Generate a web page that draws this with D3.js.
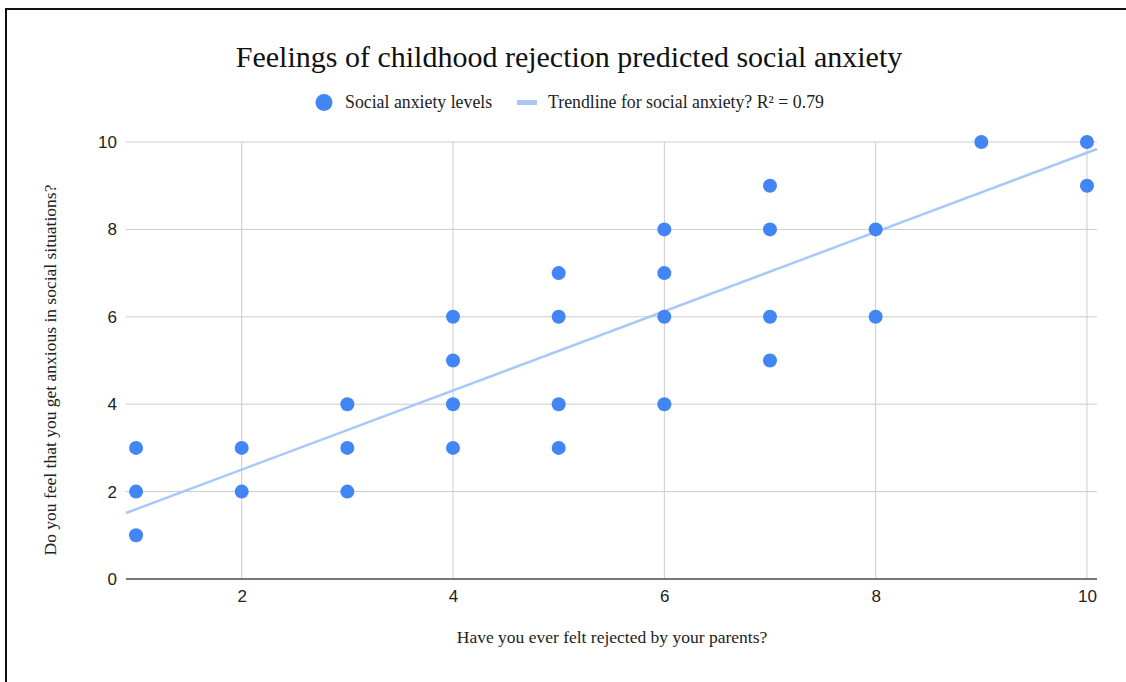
<!DOCTYPE html>
<html>
<head>
<meta charset="utf-8">
<script src="https://cdn.jsdelivr.net/npm/d3@7/dist/d3.min.js"></script>
<style>
html,body{margin:0;padding:0;background:#fff;}
svg{display:block;}
</style>
</head>
<body>
<svg id="chart" width="1126" height="682"></svg>
<script>
// ---- data ----
const rejectedX = [1,1,1,2,2,3,3,3,4,4,4,4,5,5,5,5,6,6,6,6,7,7,7,7,8,8,9,10,10];
const anxietyY  = [3,2,1,3,2,4,3,2,6,5,4,3,7,6,4,3,8,7,6,4,9,8,6,5,8,6,10,10,9];
const trendX = [0.905, 10.095];
const trendY = [1.51, 9.84];
const xTicks = [2,4,6,8,10];
const yTicks = [0,2,4,6,8,10];
const titleText = "Feelings of childhood rejection predicted social anxiety";
const seriesName = "Social anxiety levels";
const trendName = "Trendline for social anxiety? R\u00B2 = 0.79";
const xTitle = "Have you ever felt rejected by your parents?";
const yTitle = "Do you feel that you get anxious in social situations?";

// ---- layout ----
const svg = d3.select("#chart");
const pLeft = 126, pRight = 1097, pTop = 142, pBottom = 579;
const x = d3.scaleLinear().domain([0.905, 10.095]).range([pLeft, pRight]);
const y = d3.scaleLinear().domain([0, 10]).range([pBottom, pTop]);
const serif = "'Liberation Serif', 'Times New Roman', serif";
const sans = "'Liberation Sans', Arial, sans-serif";
const pointColor = "#4285f4";
const trendColor = "#a9c8f8";

// frame border
svg.append("path")
  .attr("d", `M6,682 L6,9 L1126,9`)
  .attr("fill","none").attr("stroke","#111").attr("stroke-width",2);

// title
svg.append("text").attr("x", 569).attr("y", 67)
  .attr("text-anchor","middle").attr("font-family", serif)
  .attr("font-size", 30).attr("fill","#111").text(titleText);

// legend
const lg = svg.append("g");
lg.append("circle").attr("cx", 324).attr("cy", 102.5).attr("r", 8.5).attr("fill", pointColor);
lg.append("text").attr("x", 345).attr("y", 108).attr("font-family", serif)
  .attr("font-size", 17.8).attr("fill","#222").text(seriesName);
lg.append("line").attr("x1", 517).attr("x2", 537).attr("y1", 102.5).attr("y2", 102.5)
  .attr("stroke", trendColor).attr("stroke-width", 5);
lg.append("text").attr("x", 548).attr("y", 108).attr("font-family", serif)
  .attr("font-size", 17.8).attr("fill","#222").text(trendName);

// gridlines
const grid = svg.append("g");
grid.selectAll("line.h").data(yTicks.filter(d => d !== 0)).enter().append("line")
  .attr("x1", pLeft).attr("x2", pRight)
  .attr("y1", d => y(d)).attr("y2", d => y(d))
  .attr("stroke", "#cccccc").attr("stroke-width", 1);
grid.selectAll("line.v").data(xTicks).enter().append("line")
  .attr("x1", d => x(d)).attr("x2", d => x(d))
  .attr("y1", pTop).attr("y2", pBottom)
  .attr("stroke", "#cccccc").attr("stroke-width", 1);

// axes (using d3 axes for labels)
const yAxis = d3.axisLeft(y).tickValues(yTicks).tickSize(0).tickPadding(9).tickFormat(d3.format("d"));
const gy = svg.append("g").attr("transform", `translate(${pLeft},0)`).call(yAxis);
gy.select(".domain").remove();
gy.selectAll("text").attr("font-family", sans).attr("font-size", 17).attr("fill", "#222");

const xAxis = d3.axisBottom(x).tickValues(xTicks).tickSize(0).tickPadding(11).tickFormat(d3.format("d"));
const gx = svg.append("g").attr("transform", `translate(0,${pBottom})`).call(xAxis);
gx.select(".domain").remove();
gx.selectAll("text").attr("font-family", sans).attr("font-size", 17).attr("fill", "#222");

// baseline
svg.append("line").attr("x1", pLeft).attr("x2", pRight)
  .attr("y1", y(0)).attr("y2", y(0))
  .attr("stroke", "#777").attr("stroke-width", 2);

// trendline
const line = d3.line().x(d => x(d[0])).y(d => y(d[1]));
svg.append("path").datum(d3.zip(trendX, trendY))
  .attr("d", line).attr("fill","none")
  .attr("stroke", trendColor).attr("stroke-width", 2.5);

// points
svg.append("g").selectAll("circle").data(d3.zip(rejectedX, anxietyY)).enter().append("circle")
  .attr("cx", d => x(d[0])).attr("cy", d => y(d[1])).attr("r", 7)
  .attr("fill", pointColor);

// axis titles
svg.append("text").attr("x", 612).attr("y", 643)
  .attr("text-anchor","middle").attr("font-family", serif)
  .attr("font-size", 17.5).attr("fill","#222").text(xTitle);
svg.append("text").attr("transform", "translate(56,370) rotate(-90)")
  .attr("text-anchor","middle").attr("font-family", serif)
  .attr("font-size", 17.5).attr("fill","#222").text(yTitle);
</script>
</body>
</html>
